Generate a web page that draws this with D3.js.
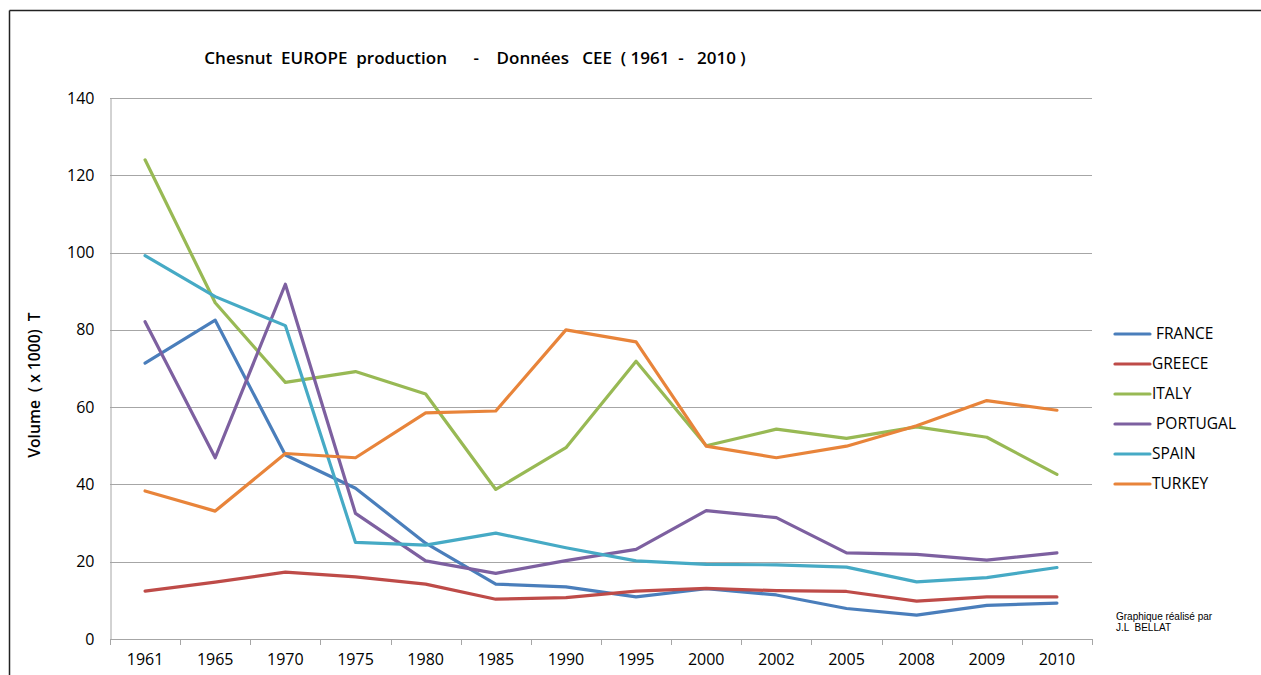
<!DOCTYPE html>
<html>
<head>
<meta charset="utf-8">
<script src="https://cdn.jsdelivr.net/npm/d3@7"></script>
<style>
  body { margin: 0; background: #fff; }
  svg text { font-family: "Open Sans", Carlito, sans-serif; fill: #000; }
</style>
</head>
<body>
<svg id="chart" width="1261" height="675"></svg>
<script>
const years = ["1961","1965","1970","1975","1980","1985","1990","1995","2000","2002","2005","2008","2009","2010"];
const france   = [71.4, 82.5, 47.6, 39.0, 24.8, 14.2, 13.5, 10.9, 13.0, 11.4, 7.9, 6.2, 8.7, 9.3];
const greece   = [12.4, 14.7, 17.3, 16.1, 14.2, 10.3, 10.7, 12.4, 13.1, 12.5, 12.3, 9.8, 10.9, 10.9];
const italy    = [124.0, 87.0, 66.4, 69.2, 63.4, 38.7, 49.5, 71.9, 50.0, 54.3, 51.9, 54.9, 52.2, 42.6];
const portugal = [82.1, 46.9, 91.8, 32.5, 20.2, 17.0, 20.3, 23.2, 33.2, 31.4, 22.3, 21.9, 20.4, 22.3];
const spain    = [99.2, 88.6, 81.1, 25.0, 24.3, 27.4, 23.6, 20.2, 19.3, 19.2, 18.6, 14.8, 15.9, 18.5];
const turkey   = [38.3, 33.1, 48.0, 46.9, 58.5, 59.0, 80.0, 76.9, 49.9, 46.9, 49.9, 55.2, 61.7, 59.2];
const seriesNames = ["FRANCE", "GREECE", "ITALY", "PORTUGAL", "SPAIN", "TURKEY"];
const legendLabels = [" FRANCE", "GREECE", "ITALY", " PORTUGAL", "SPAIN", "TURKEY"];
const yTicks = [0, 20, 40, 60, 80, 100, 120, 140];
const titleText = "Chesnut  EUROPE  production      -    Données   CEE  ( 1961  -   2010 )";
const yLabel = "Volume  ( x 1000)  T";
const credit = ["Graphique réalisé par", "J.L  BELLAT"];

const seriesValues = [france, greece, italy, portugal, spain, turkey];
const colors = ["#4A7EBB", "#BE4B48", "#98B954", "#7D60A0", "#46AAC5", "#E8843A"];

const svg = d3.select("#chart");
const plotLeft = 110, plotRight = 1092, plotTop = 98, plotBottom = 639;
const font = "'Open Sans', Carlito, sans-serif";

// outer frame (top and left only visible)
svg.append("line").attr("x1", 9.5).attr("x2", 1261).attr("y1", 10.5).attr("y2", 10.5).attr("stroke", "#222").attr("stroke-width", 1.5);
svg.append("line").attr("x1", 9.5).attr("x2", 9.5).attr("y1", 10.5).attr("y2", 675).attr("stroke", "#222").attr("stroke-width", 1.5);

const x = d3.scaleBand().domain(years).range([plotLeft, plotRight]).paddingInner(0).paddingOuter(0);
const y = d3.scaleLinear().domain([0, 140]).range([plotBottom, plotTop]);

// gridlines
svg.append("g").selectAll("line").data(yTicks.filter(d => d > 0)).join("line")
  .attr("x1", plotLeft).attr("x2", plotRight)
  .attr("y1", d => Math.round(y(d)) + 0.5).attr("y2", d => Math.round(y(d)) + 0.5)
  .attr("stroke", "#A6A6A6").attr("stroke-width", 1);

// y axis
const yAxis = svg.append("g").attr("transform", `translate(${plotLeft + 0.5},0)`)
  .call(d3.axisLeft(y).tickValues(yTicks).tickSize(0).tickPadding(16));
yAxis.select(".domain").attr("stroke", "#A6A6A6");
yAxis.selectAll("text").style("font-size", "16px").attr("fill", "#111").style("font-family", font);

// x axis
const xAxis = svg.append("g").attr("transform", `translate(0,${plotBottom + 0.5})`)
  .call(d3.axisBottom(x).tickSize(0).tickPadding(14));
xAxis.select(".domain").attr("stroke", "#A6A6A6").attr("d", `M${plotLeft},0H${plotRight}`);
xAxis.selectAll("text").style("font-size", "16px").attr("fill", "#111").style("font-family", font);
// tick marks between categories
const boundaries = years.map(d => x(d)).concat([plotRight]);
svg.append("g").selectAll("line").data(boundaries).join("line")
  .attr("x1", d => Math.round(d) + 0.5).attr("x2", d => Math.round(d) + 0.5)
  .attr("y1", plotBottom).attr("y2", plotBottom + 6)
  .attr("stroke", "#A6A6A6");

// lines
const line = d3.line()
  .x((d, i) => x(years[i]) + x.bandwidth() / 2)
  .y(d => y(d));
svg.append("g").selectAll("path").data(seriesValues).join("path")
  .attr("d", d => line(d))
  .attr("fill", "none")
  .attr("stroke", (d, i) => colors[i])
  .attr("stroke-width", 3.2)
  .attr("stroke-linejoin", "round")
  .attr("stroke-linecap", "round");

// title
svg.append("text").attr("x", 475).attr("y", 64).attr("text-anchor", "middle")
  .style("font-size", "17px").style("font-weight", "600").style("white-space", "pre")
  .attr("xml:space", "preserve").text(titleText);

// y label
svg.append("text").attr("transform", "translate(40,385) rotate(-90)").attr("text-anchor", "middle")
  .style("font-size", "15.7px").style("font-weight", "600").attr("xml:space", "preserve").style("white-space", "pre")
  .text(yLabel);

// legend
const lg = svg.append("g");
seriesNames.forEach((name, i) => {
  const yy = 334 + i * 30;
  lg.append("line").attr("x1", 1115).attr("x2", 1150).attr("y1", yy).attr("y2", yy)
    .attr("stroke", colors[i]).attr("stroke-width", 3.2).attr("stroke-linecap", "round");
  lg.append("text").attr("x", 1152).attr("y", yy + 5).style("font-size", "15.5px")
    .attr("xml:space", "preserve").style("white-space", "pre").text(legendLabels[i]);
});

// credit
credit.forEach((t, i) => {
  svg.append("text").attr("x", 1116).attr("y", 620 + i * 11)
    .style("font-family", "'Liberation Sans', Arial, sans-serif").style("font-size", "10px")
    .attr("xml:space", "preserve").style("white-space", "pre").text(t);
});
</script>
</body>
</html>
